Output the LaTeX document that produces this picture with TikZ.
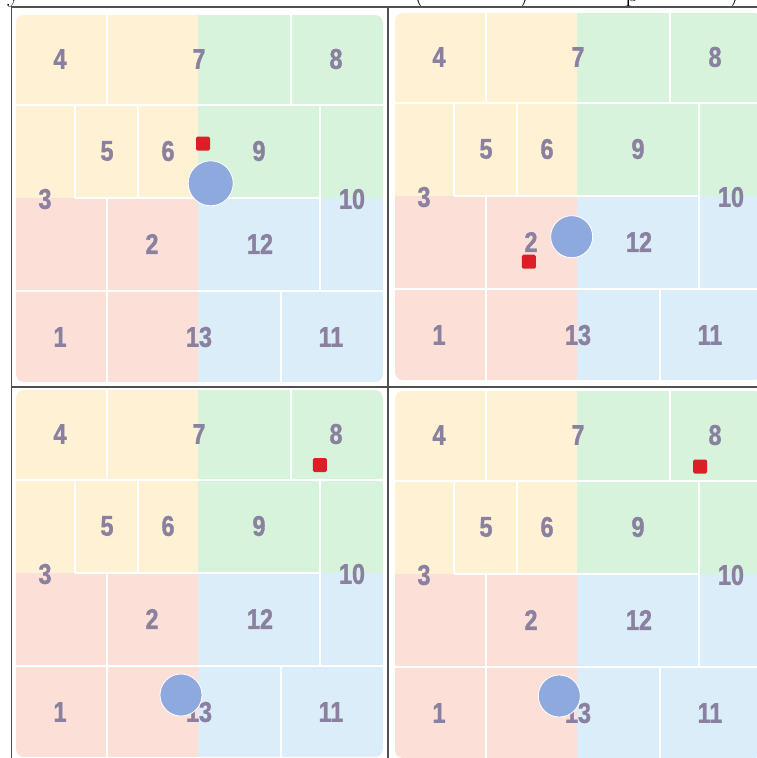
\documentclass[tikz,border=0pt]{standalone}
\usepackage{fontspec}
\newfontfamily\lblfont[FakeStretch=0.82,FakeBold=1.2]{Liberation Sans Bold}
\definecolor{qy}{HTML}{FFF1D3}
\definecolor{qg}{HTML}{D8F3DB}
\definecolor{qr}{HTML}{FCE0D8}
\definecolor{qb}{HTML}{DAEDF8}
\definecolor{lblc}{HTML}{8A80A0}
\definecolor{ballc}{HTML}{8EA9DE}
\definecolor{redc}{HTML}{DC1F26}
\definecolor{framec}{HTML}{505050}
\tikzset{
  cellline/.style={white, line width=1.7},
  lbl/.style={font=\lblfont\fontsize{28.5}{28}\selectfont, text=lblc, inner sep=0},
  ball/.style={circle, fill=ballc, draw=white, line width=0.8, inner sep=0},
  target/.style={rectangle, rounded corners=1.5, fill=redc, minimum size=14, inner sep=0},
  framel/.style={draw=framec, line width=1.2},
  capt/.style={font=\fontsize{28}{30}\selectfont, anchor=base, inner sep=0},
}
\newcommand\onepanel[8]{%
  \begin{scope}[shift={(#2,#3)}]
    \begin{scope}
      \clip[rounded corners=8] (16,15) rectangle (383,382);
      \fill[qy] (16,15) rectangle (198,198);
      \fill[qg] (198,15) rectangle (383,198);
      \fill[qr] (16,198) rectangle (198,382);
      \fill[qb] (198,198) rectangle (383,382);
      \draw[cellline] (16,105) -- (383,105);
      \draw[cellline] (16,291) -- (383,291);
      \draw[cellline] (75,198) -- (320,198);
      \draw[cellline] (107,15) -- (107,105);
      \draw[cellline] (107,198) -- (107,382);
      \draw[cellline] (291,15) -- (291,105);
      \draw[cellline] (75,105) -- (75,198);
      \draw[cellline] (138,105) -- (138,198);
      \draw[cellline] (320,105) -- (320,291);
      \draw[cellline] (281,291) -- (281,382);
    \end{scope}
    \node[lbl] (#1-n4) at (60,59) {4};
    \node[lbl] (#1-n7) at (199,59) {7};
    \node[lbl] (#1-n8) at (336,59) {8};
    \node[lbl] (#1-n5) at (107,151) {5};
    \node[lbl] (#1-n6) at (168,151) {6};
    \node[lbl] (#1-n9) at (259,151) {9};
    \node[lbl] (#1-n3) at (45,199) {3};
    \node[lbl] (#1-n10) at (352,199) {10};
    \node[lbl] (#1-n2) at (152,244) {2};
    \node[lbl] (#1-n12) at (260,244) {12};
    \node[lbl] (#1-n1) at (60,337) {1};
    \node[lbl] (#1-n13) at (199,337) {13};
    \node[lbl] (#1-n11) at (331,337) {11};
    \node[ball, minimum size=#8] (#1-ball) at (#4,#5) {};
    \node[target] (#1-target) at (#6,#7) {};
  \end{scope}}
\begin{document}
\begin{tikzpicture}[x=1pt,y=-1pt]
  \useasboundingbox (0,0) rectangle (757,758);
  \fill[white] (0,0) rectangle (757,758);
  % cut-off caption line above the table
  \begin{scope}
    \clip (0,0) rectangle (757,6.6);
    \node[capt] (c1) at (14,1.5) {y};
    \node[capt] (c2) at (419,1.5) {(};
    \node[capt] (c3) at (524,1.5) {)};
    \node[capt] (c4) at (632,1.5) {p};
    \node[capt] (c5) at (734,1.5) {)};
  \end{scope}
  \onepanel{pa}{0}{0}{210.7}{183.3}{203}{143.7}{45}
  \onepanel{pb}{379}{-2}{192.7}{238.7}{149.8}{263.7}{42}
  \onepanel{pc}{0}{375}{181}{320}{319.8}{90}{42}
  \onepanel{pd}{379}{376}{180.3}{320}{321.2}{90.5}{42}
  % table rules
  \draw[framel] (11,7) -- (757,7);
  \draw[framel] (11,387) -- (757,387);
  \draw[framel] (11.5,7) -- (11.5,758);
  \draw[framel] (388,7) -- (388,758);
\end{tikzpicture}
\end{document}
